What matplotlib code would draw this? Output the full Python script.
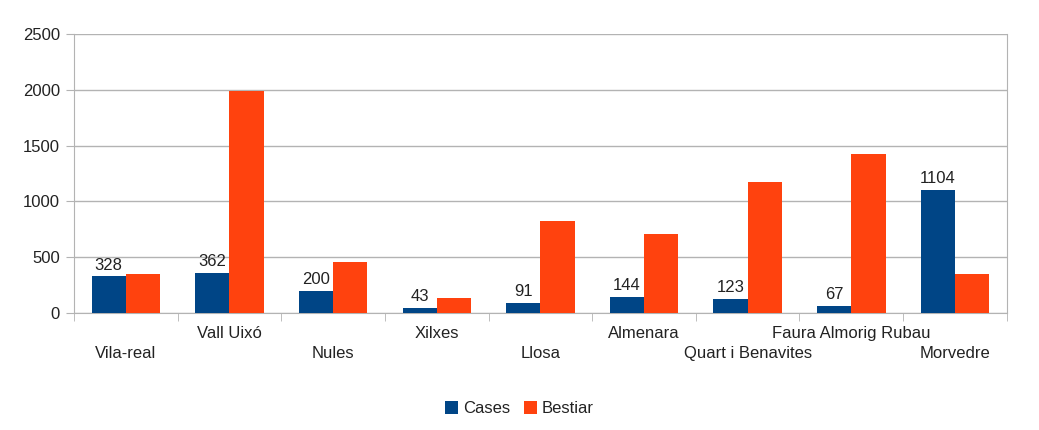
import numpy as np
import matplotlib.pyplot as plt

plt.rcParams['font.family'] = ['Liberation Sans', 'DejaVu Sans']

pobles = ['Vila-real', 'Vall Uixó', 'Nules', 'Xilxes', 'Llosa', 'Almenara',
          'Quart i Benavites', 'Faura Almorig Rubau', 'Morvedre']
cases = [328, 362, 200, 43, 91, 144, 123, 67, 1104]
bestiar = [348, 1985, 458, 135, 822, 705, 1172, 1427, 350]

blau = '#004586'
taronja = '#ff420e'
gris = '#b3b3b3'
txt = '#222222'

fig = plt.figure(figsize=(10.39, 4.30), dpi=100)
ax = fig.add_axes([0.0712, 0.272, 0.8978, 0.649])

x = np.arange(len(pobles))
w = 0.33
b1 = ax.bar(x - w/2, cases, w, color=blau, label='Cases', zorder=3)
b2 = ax.bar(x + w/2, bestiar, w, color=taronja, label='Bestiar', zorder=3)

for xi, v in zip(x - w/2, cases):
    ax.text(xi, v + 35, str(v), ha='center', va='bottom', fontsize=12, color=txt)

ax.set_xlim(-0.5, len(pobles) - 0.5)
ax.set_ylim(0, 2500)
ax.set_yticks(np.arange(0, 2501, 500))
ax.grid(axis='y', color=gris, linewidth=1, zorder=0)

# etiquetes alternades (dues files)
ax.set_xticks(x)
ax.set_xticklabels([])
ax.tick_params(axis='x', which='major', length=0)
for i, p in enumerate(pobles):
    dy = -29 if i % 2 == 0 else -14.5
    ax.annotate(p, (i, 0), xycoords=('data', 'axes fraction'),
                xytext=(0, dy), textcoords='offset points',
                ha='center', va='center', fontsize=12, color=txt)
ax.set_xticks(np.arange(-0.5, len(pobles), 1), minor=True)
ax.tick_params(axis='x', which='minor', length=6, color=gris)
ax.tick_params(axis='y', length=6, color=gris, labelsize=12, labelcolor=txt, pad=4)

for s in ['left', 'right', 'bottom']:
    ax.spines[s].set_color(gris)
ax.spines['top'].set_visible(False)

fig.legend(handles=[b1, b2], loc='center', bbox_to_anchor=(0.50, 0.05), ncol=2,
           frameon=False, fontsize=12, handlelength=0.8, handleheight=0.8,
           handletextpad=0.3, columnspacing=0.8, labelcolor=txt)

fig.savefig('out.png', dpi=100)
